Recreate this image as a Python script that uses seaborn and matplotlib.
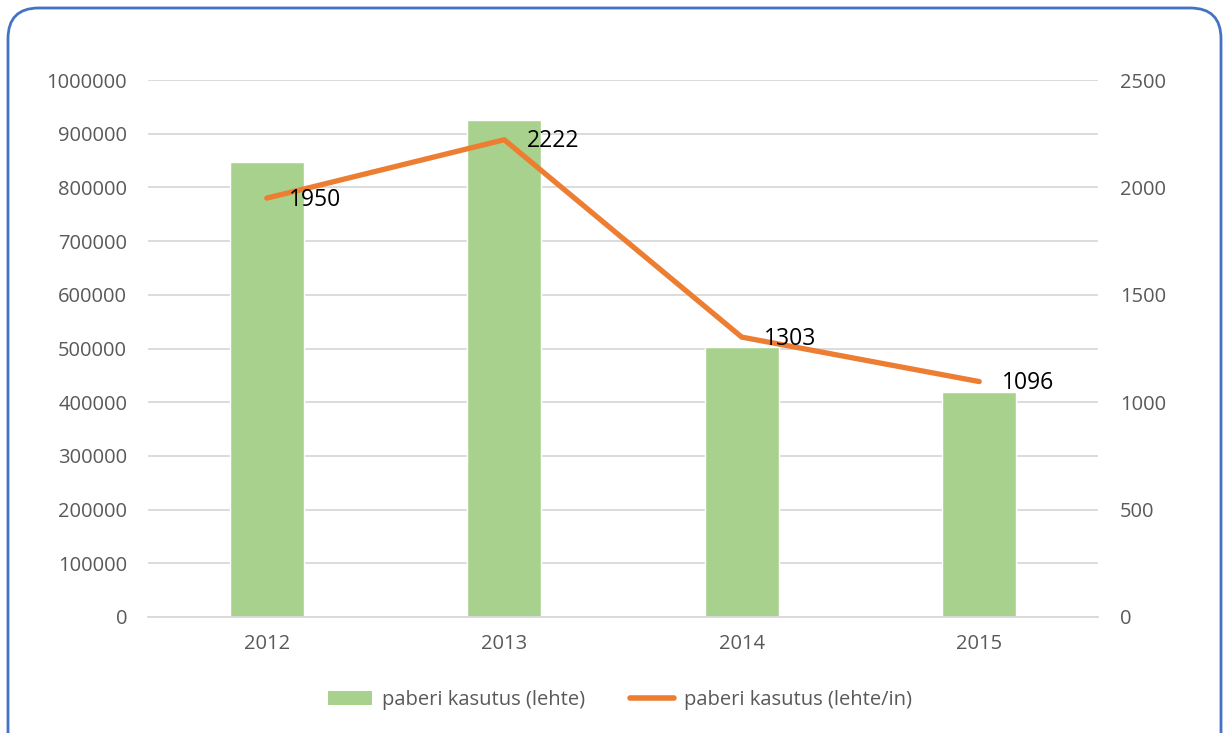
import pandas as pd
import matplotlib.pyplot as plt
import seaborn as sns
from matplotlib.patches import FancyBboxPatch, Patch
from matplotlib.lines import Line2D

# chart data
years = ["2012", "2013", "2014", "2015"]
paper_used = [847000, 925000, 502000, 419000]
paper_per_person = [1950, 2222, 1303, 1096]

GREEN = "#A9D18E"
ORANGE = "#ED7D31"
GREY = "#595959"

sns.set_theme(style="white")
plt.rcParams["font.family"] = ["Open Sans", "DejaVu Sans"]

df = pd.DataFrame({"year": years, "used": paper_used, "per": paper_per_person})

fig = plt.figure(figsize=(12.29, 7.33), dpi=100)
ax = fig.add_axes([148 / 1229, 1 - 617 / 733, 950 / 1229, 537 / 733])

sns.barplot(data=df, x="year", y="used", color=GREEN, width=0.31,
            saturation=1, ax=ax)
ax.set_xlim(-0.5, 3.5)
ax.set_ylim(0, 1000000)
ax.set_yticks(range(0, 1000001, 100000))
ax.set_yticklabels([str(v) for v in range(0, 1000001, 100000)])
ax.yaxis.grid(True, color="#D9D9D9", linewidth=1.3)
ax.set_axisbelow(True)
ax.set_xlabel("")
ax.set_ylabel("")
for s in ["top", "right", "left"]:
    ax.spines[s].set_visible(False)
ax.spines["bottom"].set_color("#D9D9D9")
ax.spines["bottom"].set_linewidth(1.3)
ax.tick_params(axis="both", length=0, labelsize=14.5, labelcolor=GREY, pad=12)
ax.tick_params(axis="y", pad=15)

ax2 = ax.twinx()
sns.lineplot(data=df, x="year", y="per", color=ORANGE, linewidth=3.8,
             ax=ax2, sort=False)
ax2.set_ylim(0, 2500)
ax2.set_yticks(range(0, 2501, 500))
ax2.set_ylabel("")
for s in ax2.spines.values():
    s.set_visible(False)
ax2.tick_params(axis="y", length=0, labelsize=14.5, labelcolor=GREY, pad=16)

for i, v in enumerate(paper_per_person):
    ax2.annotate(str(v), (i, v), xytext=(16, -1), textcoords="offset points",
                 ha="left", va="center", fontsize=16.5, color="black")

handles = [Patch(facecolor=GREEN, edgecolor="none"),
           Line2D([0], [0], color=ORANGE, linewidth=4, solid_capstyle="round")]
fig.legend(handles, ["paberi kasutus (lehte)", "paberi kasutus (lehte/in)"],
           loc="center", bbox_to_anchor=(620 / 1229, 1 - 700 / 733), ncol=2,
           frameon=False, fontsize=14.5, labelcolor=GREY, handlelength=2.2,
           handletextpad=0.5, columnspacing=2.2)

frame = FancyBboxPatch((8 / 1229, -0.05), 1213 / 1229, 1 - 8 / 733 + 0.05,
                       boxstyle="round,pad=0,rounding_size=0.025",
                       transform=fig.transFigure, facecolor="none",
                       edgecolor="#4472C4", linewidth=2, mutation_aspect=1229 / 733)
fig.patches.append(frame)

fig.savefig("out.png", dpi=100)
